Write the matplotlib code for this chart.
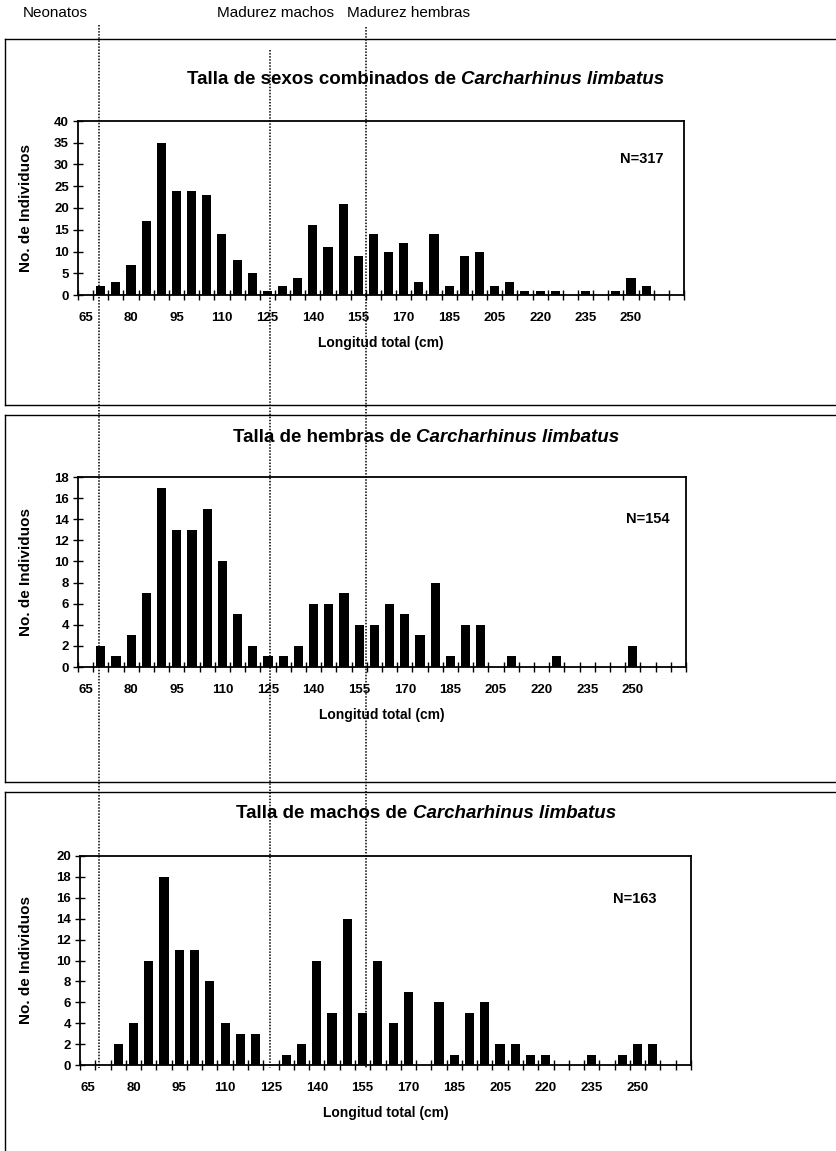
import numpy as np
import matplotlib.pyplot as plt
import matplotlib.transforms as mtransforms
from matplotlib.lines import Line2D

plt.rcParams['font.family'] = ['Liberation Sans', 'DejaVu Sans']

# Length classes (cm); the original chart has no 200 cm class
clases = list(range(65, 200, 5)) + list(range(205, 270, 5))

combinados = [0, 2, 3, 7, 17, 35, 24, 24, 23, 14, 8, 5, 1, 2, 4, 16, 11, 21, 9, 14,
              10, 12, 3, 14, 2, 9, 10, 2, 3, 1, 1, 1, 0, 1, 0, 1, 4, 2, 0, 0]
hembras = [0, 2, 1, 3, 7, 17, 13, 13, 15, 10, 5, 2, 1, 1, 2, 6, 6, 7, 4, 4,
           6, 5, 3, 8, 1, 4, 4, 0, 1, 0, 0, 1, 0, 0, 0, 0, 2, 0, 0, 0]
machos = [0, 0, 2, 4, 10, 18, 11, 11, 8, 4, 3, 3, 0, 1, 2, 10, 5, 14, 5, 10,
          4, 7, 0, 6, 1, 5, 6, 2, 2, 1, 1, 0, 0, 1, 0, 1, 2, 2, 0, 0]

series = [combinados, hembras, machos]
titulos = ['sexos combinados', 'hembras', 'machos']
n_total = [317, 154, 163]
ymax = [40, 18, 20]
ypaso = [5, 2, 2]

# reference lengths (cm) marked with dotted lines
marcas = ['Neonatos', 'Madurez machos', 'Madurez hembras']
marcas_cm = [69.5, 126, 157.5]

# ---- layout (pixels) ----
W, H = 836, 1151
fig = plt.figure(figsize=(W / 100, H / 100), dpi=100)


def fx(px):
    return px / W


def fy(py):
    return 1 - py / H


axes_px = [(78, 121, 684, 295), (78, 477, 686, 667), (80, 856, 691, 1065)]
frames_px = [(39, 405), (415, 782), (792, H + 5)]
title_y = [80, 438, 814]
n_pos = [(642, 159), (648, 519), (635, 899)]

idx = np.arange(len(clases))
renderer = fig.canvas.get_renderer()
axes = []
for i, vals in enumerate(series):
    x0, y0, x1, y1 = axes_px[i]
    ax = fig.add_axes([fx(x0), fy(y1), (x1 - x0) / W, (y1 - y0) / H])
    axes.append(ax)
    ax.bar(idx, vals, width=0.6, color='black')
    ax.set_xlim(-0.5, len(clases) - 0.5)
    ax.set_ylim(0, ymax[i])
    ax.set_yticks(np.arange(0, ymax[i] + 1, ypaso[i]))
    ax.set_xticks(idx[:37:3])
    ax.set_xticklabels([str(c) for c in clases[:37:3]])
    ax.set_xticks(np.arange(-0.5, len(clases)), minor=True)
    ax.tick_params(axis='x', which='major', length=0, pad=12)
    ax.tick_params(axis='x', which='minor', direction='inout', length=7, width=1)
    ax.tick_params(axis='y', direction='inout', length=7, width=1, pad=3)
    for lab in ax.get_xticklabels() + ax.get_yticklabels():
        lab.set_fontsize(9.5)
        lab.set_fontweight('bold')
    for sp in ax.spines.values():
        sp.set_linewidth(1.3)
    ax.set_ylabel('No. de Individuos', fontsize=11, fontweight='bold')
    ax.yaxis.set_label_coords((33 - x0) / (x1 - x0), 0.5)
    ax.set_xlabel('Longitud total (cm)', fontsize=10, fontweight='bold')
    ax.xaxis.set_label_coords(0.5, -41 / (y1 - y0))
    ax.text(fx(n_pos[i][0]), fy(n_pos[i][1]), 'N=%d' % n_total[i],
            transform=fig.transFigure, fontsize=10.5, fontweight='bold',
            ha='center', va='center')

    # two-part title, centred on the chart area
    ta = fig.text(0, fy(title_y[i]), 'Talla de %s de' % titulos[i],
                  fontsize=13.5, fontweight='bold', va='center')
    tb = fig.text(0, fy(title_y[i]), 'Carcharhinus limbatus',
                  fontsize=13.5, fontweight='bold', style='italic', va='center')
    wa = ta.get_window_extent(renderer).width
    wb = tb.get_window_extent(renderer).width
    gap = 5
    xs = 426 - (wa + gap + wb) / 2
    ta.set_x(fx(xs))
    tb.set_x(fx(xs + wa + gap))

    # panel frame
    top, bot = frames_px[i]
    fig.add_artist(Line2D([fx(5), fx(W)], [fy(top), fy(top)], color='black', lw=1))
    fig.add_artist(Line2D([fx(5), fx(5)], [fy(top), fy(bot)], color='black', lw=1))
    if bot < H:
        fig.add_artist(Line2D([fx(5), fx(W)], [fy(bot), fy(bot)], color='black', lw=1))

# dotted reference lines across all panels
trans = mtransforms.blended_transform_factory(axes[0].transData, fig.transFigure)
pos = np.interp(marcas_cm, clases, idx)
line_top = [25, 50, 27]
text_x = [23, 217, 347]
for k, nombre in enumerate(marcas):
    fig.add_artist(Line2D([pos[k], pos[k]], [fy(line_top[k]), fy(1068)],
                          transform=trans, color='black', lw=1.1,
                          linestyle=(0, (1, 1))))
    fig.text(fx(text_x[k]), fy(13), nombre, fontsize=11, va='center', ha='left')

fig.savefig('out.png', dpi=100)
